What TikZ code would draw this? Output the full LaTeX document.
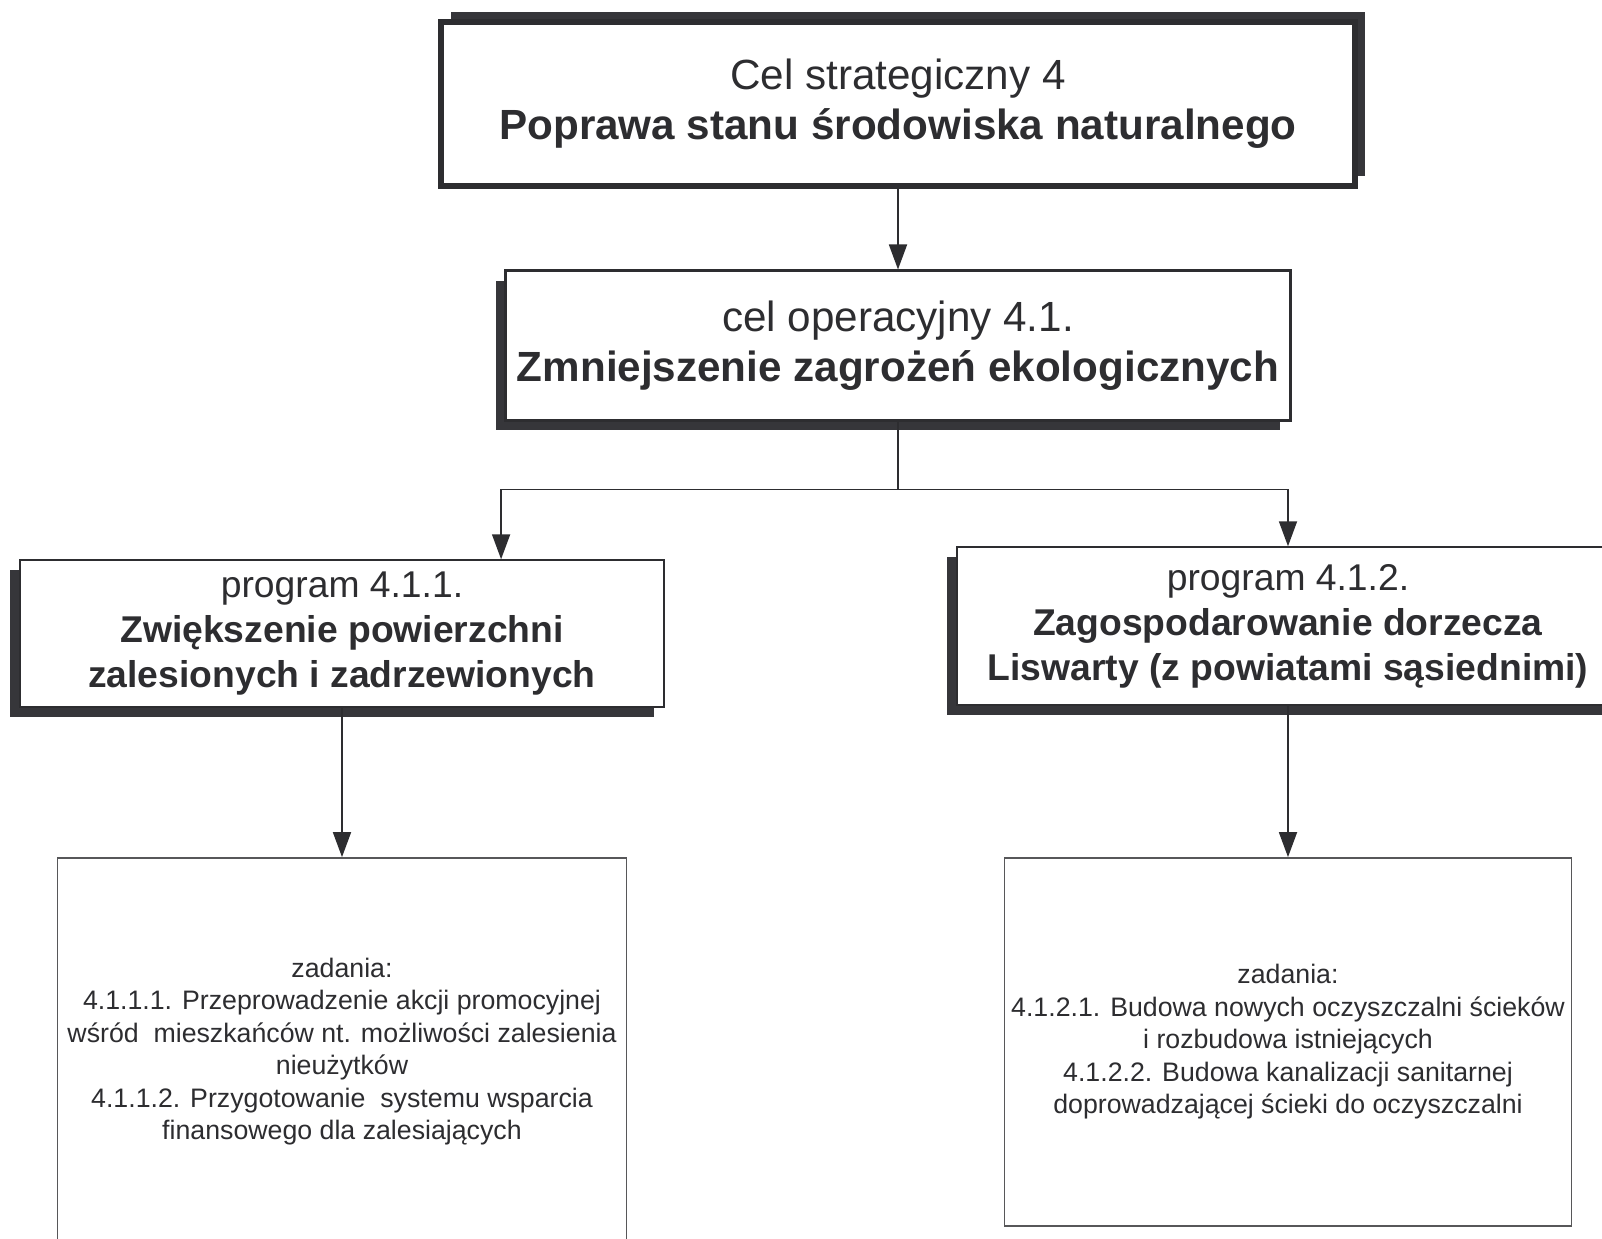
\documentclass[tikz,border=0pt]{standalone}
\usepackage{fontspec}
\setmainfont{Liberation Sans}
\usetikzlibrary{arrows.meta,shadows}
\definecolor{shade}{RGB}{54,54,58}
\definecolor{ink}{RGB}{45,45,48}
\begin{document}
\begin{tikzpicture}[x=0.01cm,y=-0.01cm,line join=miter,>={Triangle[length=0.25cm,width=0.18cm]},
  box/.style={draw=ink,fill=white,inner sep=0pt,align=center,text=ink},
  shdown/.style={drop shadow={shadow xshift=-0.1cm,shadow yshift=-0.1cm,fill=shade,opacity=1}},
  big/.style={font=\fontsize{12}{14.3}\selectfont},
  mid/.style={font=\fontsize{10.6}{12.8}\selectfont},
  small/.style={font=\fontsize{7.6}{9.25}\selectfont},
  wire/.style={draw=ink,line width=0.5pt}]
\useasboundingbox[fill=white](0,0)rectangle(1602,1238);
\node[box,big,line width=1.7pt,minimum width=9.13cm,minimum height=1.64cm,
  drop shadow={shadow xshift=0.1cm,shadow yshift=0.1cm,fill=shade,opacity=1}](cel)at(898,104)
  {Cel strategiczny 4\\\textbf{Poprawa stanu środowiska naturalnego}};
\node[box,big,shdown,line width=0.85pt,minimum width=7.84cm,minimum height=1.49cm](op)at(898,345.5)
  {cel operacyjny 4.1.\\\textbf{Zmniejszenie zagrożeń ekologicznych}};
\node[box,mid,shdown,line width=0.4pt,minimum width=6.44cm,minimum height=1.47cm](p1)at(342,633.5)
  {program 4.1.1.\\\textbf{Zwiększenie powierzchni}\\\textbf{zalesionych i zadrzewionych}};
\node[box,mid,shdown,line width=0.4pt,minimum width=6.62cm,minimum height=1.58cm](p2)at(1288,626)
  {program 4.1.2.\\\textbf{Zagospodarowanie dorzecza}\\\textbf{Liswarty (z powiatami sąsiednimi)}};
\node[box,small,draw=ink!80,line width=0.45pt,minimum width=5.69cm,minimum height=3.87cm](t1)at(342,1051.5)
  {zadania:\\4.1.1.1. Przeprowadzenie akcji promocyjnej\\wśród~ mieszkańców nt. możliwości zalesienia\\nieużytków\\4.1.1.2. Przygotowanie~ systemu wsparcia\\finansowego dla zalesiających};
\node[box,small,draw=ink!80,line width=0.45pt,minimum width=5.67cm,minimum height=3.68cm](t2)at(1288,1042)
  {zadania:\\4.1.2.1. Budowa nowych oczyszczalni ścieków\\i rozbudowa istniejących\\4.1.2.2. Budowa kanalizacji sanitarnej\\doprowadzającej ścieki do oczyszczalni};
\draw[wire,->](cel)--(op);
\draw[wire](op.south)--++(0,68)coordinate(fork);
\draw[wire,->](fork)-|([xshift=1.59cm]p1.north);
\draw[wire,->](fork)-|(p2.north);
\draw[wire,->](p1)--(t1);
\draw[wire,->](p2)--(t2);
\end{tikzpicture}
\end{document}
